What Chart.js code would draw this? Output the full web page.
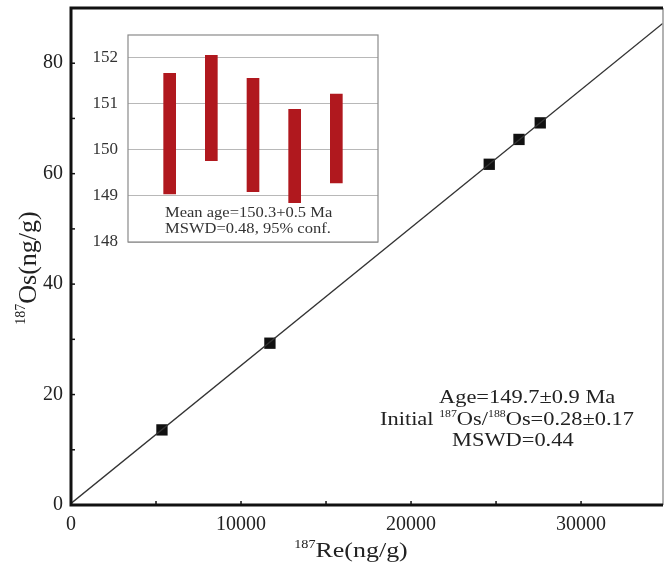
<!DOCTYPE html>
<html>
<head>
<meta charset="utf-8">
<script src="https://cdn.jsdelivr.net/npm/chart.js@4.4.0/dist/chart.umd.min.js"></script>
<style>
html, body { margin: 0; padding: 0; background: #fff; }
#wrap { position: relative; width: 665px; height: 566px; }
#mainChart { position: absolute; left: 0; top: 0; }
#insetChart { position: absolute; left: 88px; top: 28px; }
</style>
</head>
<body>
<div id="wrap">
  <canvas id="mainChart" width="665" height="566"></canvas>
  <canvas id="insetChart" width="294" height="218"></canvas>
</div>
<script>
// isochron samples: 187Re vs 187Os (ng/g)
const reValues = [5350, 11700, 24600, 26350, 27600];
const osValues = [13.6, 29.3, 61.7, 66.2, 69.2];

// regression line end points
const lineRe = [0, 34800];
const lineOs = [0.28, 87.2];

// axis ranges / ticks
const xMax = 34820;
const yMax = 90;
const xTickValues = [0, 10000, 20000, 30000];
const yTickValues = [0, 20, 40, 60, 80];
const xMinor = 5000, yMinor = 10;

// inset: model ages with error bars (Ma)
const ageLabels = ['', 'S1', 'S2', 'S3', 'S4', 'S5', ''];
const ageLow = [null, 149.04, 149.76, 149.09, 148.85, 149.28, null];
const ageHigh = [null, 151.65, 152.04, 151.54, 150.87, 151.20, null];
const ageTickValues = [148, 149, 150, 151, 152];

const SERIF = "'Liberation Serif', 'Times New Roman', serif";
const SX = 1.18; // text in the figure is a little wide

Chart.defaults.font.family = SERIF;
Chart.defaults.color = '#222';

// draw text with superscripts; parts = [[text, isSup], ...]
function richWidth(ctx, parts, size) {
    let w = 0;
    parts.forEach(([t, sup]) => {
        ctx.font = (sup ? Math.round(size * 0.55) : size) + 'px ' + SERIF;
        w += ctx.measureText(t).width;
    });
    return w;
}

function drawRich(ctx, parts, x, y, size, opts = {}) {
    const sx = opts.sx || 1;
    ctx.save();
    ctx.translate(x, y);
    if (opts.rotate) ctx.rotate(opts.rotate);
    ctx.scale(sx, 1);
    ctx.textAlign = 'left';
    ctx.textBaseline = 'alphabetic';
    ctx.fillStyle = opts.color || '#222';
    let cx = 0;
    if (opts.center) cx = -richWidth(ctx, parts, size) / 2;
    parts.forEach(([t, sup]) => {
        ctx.font = (sup ? Math.round(size * 0.55) : size) + 'px ' + SERIF;
        ctx.fillText(t, cx, sup ? -size * 0.42 : 0);
        cx += ctx.measureText(t).width;
    });
    ctx.restore();
}

function noPad(s) {
    s.paddingTop = 0;
    s.paddingBottom = 0;
    s.paddingLeft = 0;
    s.paddingRight = 0;
}

const frameAndTicks = {
    id: 'frameAndTicks',
    afterDatasetsDraw(chart) {
        const { ctx, chartArea: a, scales: { x, y } } = chart;
        ctx.save();
        ctx.strokeStyle = '#111';
        ctx.lineWidth = 1.5;
        // inward ticks
        for (let v = 0; v <= xMax; v += xMinor) {
            const px = x.getPixelForValue(v);
            ctx.beginPath();
            ctx.moveTo(px, a.bottom);
            ctx.lineTo(px, a.bottom - 4);
            ctx.stroke();
        }
        for (let v = 0; v <= yMax; v += yMinor) {
            const py = y.getPixelForValue(v);
            ctx.beginPath();
            ctx.moveTo(a.left, py);
            ctx.lineTo(a.left + 4, py);
            ctx.stroke();
        }
        // frame
        ctx.strokeStyle = '#999';
        ctx.lineWidth = 1.5;
        ctx.beginPath();
        ctx.moveTo(a.right, a.top);
        ctx.lineTo(a.right, a.bottom);
        ctx.stroke();
        ctx.strokeStyle = '#111';
        ctx.lineWidth = 3;
        ctx.beginPath();
        ctx.moveTo(a.right, a.top);
        ctx.lineTo(a.left, a.top);
        ctx.lineTo(a.left, a.bottom);
        ctx.lineTo(a.right, a.bottom);
        ctx.stroke();
        ctx.restore();
    },
    afterDraw(chart) {
        const { ctx, chartArea: a } = chart;
        // axis titles
        drawRich(ctx, [['187', true], ['Re(ng/g)', false]],
            (a.left + a.right) / 2 - 16, 557, 22, { sx: SX, center: true });
        drawRich(ctx, [['187', true], ['Os(ng/g)', false]],
            36, 268, 26, { rotate: -Math.PI / 2, center: true });
        // isochron result
        drawRich(ctx, [['Age=149.7\u00b10.9 Ma', false]], 439, 403, 19, { sx: SX });
        drawRich(ctx, [['Initial ', false], ['187', true], ['Os/', false], ['188', true],
            ['Os=0.28\u00b10.17', false]], 380, 425, 19, { sx: SX });
        drawRich(ctx, [['MSWD=0.44', false]], 452, 446, 19, { sx: SX });
    }
};

new Chart(document.getElementById('mainChart').getContext('2d'), {
    type: 'scatter',
    data: {
        datasets: [
            {
                type: 'line',
                data: lineRe.map((v, i) => ({ x: v, y: lineOs[i] })),
                borderColor: '#333',
                borderWidth: 1.3,
                pointRadius: 0,
                fill: false
            },
            {
                data: reValues.map((v, i) => ({ x: v, y: osValues[i] })),
                pointStyle: 'rect',
                pointRadius: 8,
                pointBackgroundColor: '#111',
                pointBorderColor: '#111',
                pointBorderWidth: 0
            }
        ]
    },
    options: {
        responsive: false,
        animation: false,
        layout: { autoPadding: false, padding: { top: 8, right: 2, left: 0, bottom: 0 } },
        plugins: { legend: { display: false }, tooltip: { enabled: false } },
        scales: {
            x: {
                type: 'linear',
                min: 0,
                max: xMax,
                afterBuildTicks: s => { s.ticks = xTickValues.map(v => ({ value: v })); },
                afterFit: s => { s.height = 61; noPad(s); },
                grid: { display: false, drawTicks: false },
                border: { display: false },
                ticks: {
                    padding: 8,
                    maxRotation: 0,
                    autoSkip: false,
                    font: { size: 20 },
                    color: '#222',
                    callback: v => String(v)
                }
            },
            y: {
                min: 0,
                max: yMax,
                afterBuildTicks: s => { s.ticks = yTickValues.map(v => ({ value: v })); },
                afterFit: s => { s.width = 71; noPad(s); },
                grid: { display: false, drawTicks: false },
                border: { display: false },
                ticks: {
                    padding: 8,
                    autoSkip: false,
                    font: { size: 20 },
                    color: '#222'
                }
            }
        }
    },
    plugins: [frameAndTicks]
});

const insetFrame = {
    id: 'insetFrame',
    beforeDraw(chart) {
        const { ctx, chartArea: a } = chart;
        ctx.save();
        ctx.fillStyle = '#fff';
        ctx.fillRect(a.left, a.top, a.right - a.left, a.bottom - a.top);
        ctx.restore();
    },
    afterDraw(chart) {
        const { ctx, chartArea: a } = chart;
        ctx.save();
        ctx.strokeStyle = '#8a8a8a';
        ctx.lineWidth = 1.2;
        ctx.strokeRect(a.left, a.top, a.right - a.left, a.bottom - a.top);
        ctx.restore();
        drawRich(ctx, [['Mean age=150.3+0.5 Ma', false]], a.left + 37, a.bottom - 25, 14, { sx: SX, color: '#333' });
        drawRich(ctx, [['MSWD=0.48, 95% conf.', false]], a.left + 37, a.bottom - 9, 14, { sx: SX, color: '#333' });
    }
};

new Chart(document.getElementById('insetChart').getContext('2d'), {
    type: 'bar',
    data: {
        labels: ageLabels,
        datasets: [{
            data: ageLow.map((lo, i) => lo === null ? null : [lo, ageHigh[i]]),
            backgroundColor: '#b0181e',
            borderWidth: 0,
            barThickness: 12
        }]
    },
    options: {
        responsive: false,
        animation: false,
        layout: { autoPadding: false, padding: { top: 7, right: 4, left: 0, bottom: 4 } },
        plugins: { legend: { display: false }, tooltip: { enabled: false } },
        scales: {
            x: {
                display: false,
                offset: false
            },
            y: {
                min: 148,
                max: 152.48,
                afterBuildTicks: s => { s.ticks = ageTickValues.map(v => ({ value: v })); },
                afterFit: s => { s.width = 40; noPad(s); },
                grid: { color: '#b8b8b8', lineWidth: 1, drawTicks: false },
                border: { display: false },
                ticks: {
                    padding: 10,
                    font: { size: 17 },
                    color: '#333'
                }
            }
        }
    },
    plugins: [insetFrame]
});
</script>
</body>
</html>
